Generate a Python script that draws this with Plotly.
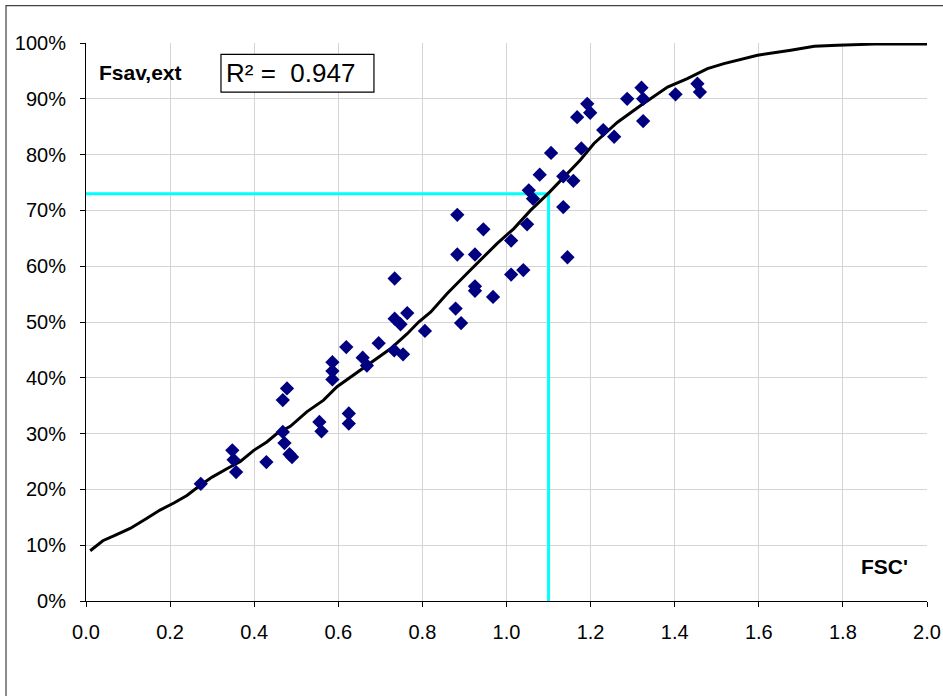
import plotly.graph_objects as go

# Measured samples: FSC' vs Fsav,ext
fsc_obs = [0.273, 0.348, 0.351, 0.357, 0.429, 0.468, 0.478, 0.468, 0.472, 0.484,
           0.490, 0.555, 0.560, 0.586, 0.586, 0.586, 0.619, 0.625, 0.625, 0.658,
           0.668, 0.696, 0.733, 0.754, 0.734, 0.734, 0.748, 0.764, 0.806, 0.879,
           0.892, 0.883, 0.883, 0.925, 0.925, 0.925, 0.945, 0.968, 1.011, 1.011,
           1.040, 1.049, 1.053, 1.063, 1.079, 1.106, 1.135, 1.135, 1.145, 1.159,
           1.168, 1.178, 1.192, 1.199, 1.230, 1.256, 1.287, 1.321, 1.325, 1.325,
           1.402, 1.454, 1.460]
fsav_obs = [0.210, 0.270, 0.253, 0.231, 0.249, 0.360, 0.381, 0.303, 0.283, 0.263,
            0.258, 0.321, 0.304, 0.428, 0.412, 0.397, 0.455, 0.336, 0.318, 0.436,
            0.422, 0.462, 0.449, 0.442, 0.578, 0.506, 0.496, 0.516, 0.484, 0.524,
            0.498, 0.692, 0.621, 0.621, 0.564, 0.556, 0.666, 0.545, 0.646, 0.585,
            0.593, 0.675, 0.736, 0.721, 0.764, 0.803, 0.761, 0.706, 0.616, 0.753,
            0.867, 0.811, 0.891, 0.875, 0.844, 0.832, 0.900, 0.920, 0.900, 0.860,
            0.908, 0.927, 0.912]

# Fitted cumulative curve
fsc_fit = [0.01, 0.04, 0.07, 0.105, 0.144, 0.176, 0.21, 0.24, 0.271, 0.30,
           0.335, 0.367, 0.399, 0.43, 0.454, 0.486, 0.525, 0.565, 0.597, 0.645,
           0.684, 0.724, 0.764, 0.791, 0.82, 0.859, 0.906, 0.938, 0.978, 1.017,
           1.057, 1.10, 1.136, 1.175, 1.208, 1.264, 1.319, 1.383, 1.43, 1.478,
           1.517, 1.597, 1.676, 1.732, 1.787, 1.875, 2.0]
fsav_fit = [0.090, 0.108, 0.118, 0.130, 0.148, 0.163, 0.176, 0.189, 0.207, 0.222,
            0.237, 0.250, 0.270, 0.285, 0.300, 0.313, 0.339, 0.360, 0.384, 0.410,
            0.431, 0.452, 0.479, 0.500, 0.518, 0.551, 0.587, 0.611, 0.641, 0.667,
            0.700, 0.731, 0.760, 0.790, 0.820, 0.858, 0.888, 0.921, 0.936, 0.954,
            0.963, 0.978, 0.987, 0.994, 0.996, 0.998, 0.998]

# Reading guide at FSC' = 1.1
guide_x = 1.1
guide_y = 0.73

r2_text = "R² =  0.947"

FONT = "Liberation Sans, Arial, sans-serif"

fig = go.Figure()

fig.add_trace(go.Scatter(
    x=[0, guide_x, guide_x], y=[guide_y, guide_y, 0],
    mode="lines", line=dict(color="#00FFFF", width=3),
    hoverinfo="skip", showlegend=False))

fig.add_trace(go.Scatter(
    x=fsc_fit, y=fsav_fit, mode="lines",
    line=dict(color="black", width=3), showlegend=False))

fig.add_trace(go.Scatter(
    x=fsc_obs, y=fsav_obs, mode="markers",
    marker=dict(symbol="diamond", size=11, color="#000080"),
    showlegend=False))

axis_common = dict(
    showgrid=True, gridcolor="#d4d4d4", gridwidth=1,
    showline=True, linecolor="black", linewidth=1,
    ticks="outside", ticklen=5, tickcolor="black",
    zeroline=False, mirror=False, automargin=False,
    tickfont=dict(family=FONT, size=20, color="black"),
)

fig.update_xaxes(range=[0, 2], dtick=0.2, tick0=0, tickformat=".1f",
                 ticklabelstandoff=8, **axis_common)
fig.update_yaxes(range=[0, 1], dtick=0.1, tick0=0, tickformat=".0%",
                 ticklabelstandoff=10, **axis_common)

fig.update_layout(
    width=943, height=696,
    margin=dict(l=86, r=16, t=43, b=95, autoexpand=False),
    paper_bgcolor="white", plot_bgcolor="white",
    font=dict(family=FONT, color="black"),
    shapes=[
        # outer chart frame
        dict(type="rect", xref="paper", yref="paper",
             x0=-0.0951, x1=1.2, y0=-0.3, y1=1.0669,
             line=dict(color="#404040", width=1.2), fillcolor="rgba(0,0,0,0)"),
        # R² box
        dict(type="rect", xref="paper", yref="paper",
             x0=0.1605, x1=0.3424, y0=0.912, y1=0.9797,
             line=dict(color="black", width=1.2), fillcolor="white"),
    ],
    annotations=[
        dict(text="<b>Fsav,ext</b>", xref="paper", yref="paper",
             x=0.0125, y=0.947, xanchor="left", yanchor="middle",
             showarrow=False, font=dict(family=FONT, size=21)),
        dict(text="<b>FSC'</b>", xref="paper", yref="paper",
             x=0.919, y=0.061, xanchor="left", yanchor="middle",
             showarrow=False, font=dict(family=FONT, size=21)),
        dict(text=r2_text, xref="paper", yref="paper",
             x=0.164, y=0.946, xanchor="left", yanchor="middle",
             showarrow=False, font=dict(family=FONT, size=26)),
    ],
)

fig.write_html("out.html")
